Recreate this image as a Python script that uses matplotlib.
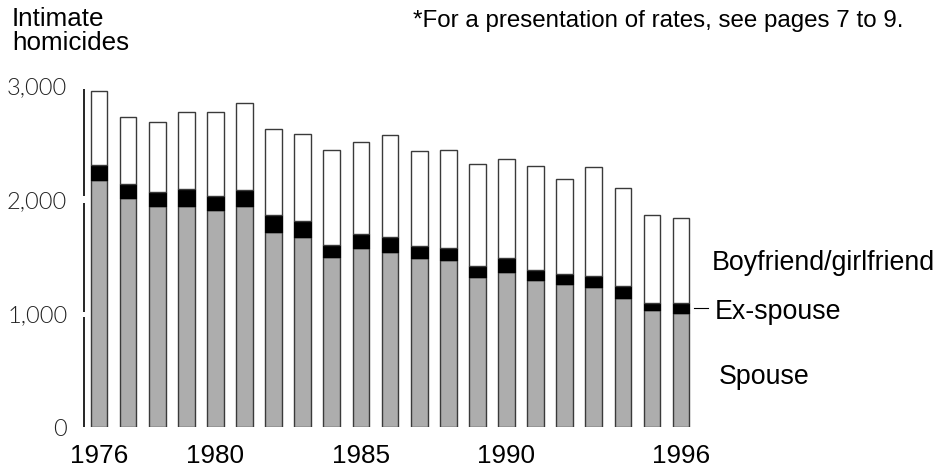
import matplotlib
matplotlib.use("Agg")
from matplotlib import pyplot as plt
import numpy as np

plt.rcParams['font.family'] = ['Liberation Sans', 'DejaVu Sans']

years = list(range(1976, 1997))
spouse = [2167, 2015, 1939, 1939, 1906, 1942, 1716, 1673, 1494, 1573, 1538,
          1485, 1465, 1322, 1365, 1292, 1257, 1228, 1137, 1029, 1006]
ex_spouse = [131, 117, 125, 152, 123, 143, 147, 137, 105, 123, 135,
             103, 108, 90, 123, 88, 91, 102, 106, 65, 82]
bf_gf = [655, 593, 617, 672, 734, 763, 757, 760, 831, 804, 891,
         836, 860, 901, 869, 912, 827, 954, 853, 769, 751]
tick_years = [1976, 1980, 1985, 1990, 1996]
y_ticks = [0, 1000, 2000, 3000]
y_labels = ['0', '1,000', '2,000', '3,000']

x = np.arange(len(years))
spouse = np.array(spouse)
ex_spouse = np.array(ex_spouse)
bf_gf = np.array(bf_gf)

fig = plt.figure(figsize=(9.4, 4.7), dpi=100)
ax = fig.add_axes([84/940, 42.7/470, 646/940, 342/470])

w = 0.574
edge = '#3a3a3a'
ax.bar(x, spouse, width=w, color='#adadad', edgecolor=edge, linewidth=1)
ax.bar(x, ex_spouse, width=w, bottom=spouse, color='black', edgecolor='black', linewidth=1)
ax.bar(x, bf_gf, width=w, bottom=spouse + ex_spouse, color='white', edgecolor=edge, linewidth=1)

ax.set_xlim(-0.515, 21.68)
ax.set_ylim(0, 3000)
for s in ['top', 'right', 'bottom', 'left']:
    ax.spines[s].set_visible(False)

# y axis line with small breaks at the ticks
ax.vlines([0, 0, 0], [0, 1015, 2025], [970, 1965, 2970], transform=ax.get_yaxis_transform(),
          color='black', linewidth=1.2, clip_on=False)

ax.set_yticks(y_ticks)
ax.set_yticklabels(y_labels, family=['Lato', 'DejaVu Sans'], fontweight=300,
                   color='#222222', fontsize=17)
ax.tick_params(axis='y', length=0, pad=12)

ax.set_xticks([years.index(t) for t in tick_years])
ax.set_xticklabels([str(t) for t in tick_years], fontsize=18.8)
ax.tick_params(axis='x', length=0, pad=12)

fig.text(12/940, 1 - 19/470, 'Intimate', fontsize=18.7, va='center', ha='left')
fig.text(12/940, 1 - 43/470, 'homicides', fontsize=18.7, va='center', ha='left')
fig.text(413/940, 1 - 21/470, '*For a presentation of rates, see pages 7 to 9.',
         fontsize=17.4, va='center', ha='left')

fig.text(712/940, 1 - 263/470, 'Boyfriend/girlfriend', fontsize=19.3, va='center', ha='left')
fig.text(715/940, 1 - 312/470, 'Ex-spouse', fontsize=19.3, va='center', ha='left')
fig.text(719/940, 1 - 377/470, 'Spouse', fontsize=19.3, va='center', ha='left')
fig.add_artist(plt.Line2D([694/940, 708/940], [1 - 308/470, 1 - 308/470],
                          color='black', linewidth=0.8))

fig.savefig('out.png', dpi=100)
